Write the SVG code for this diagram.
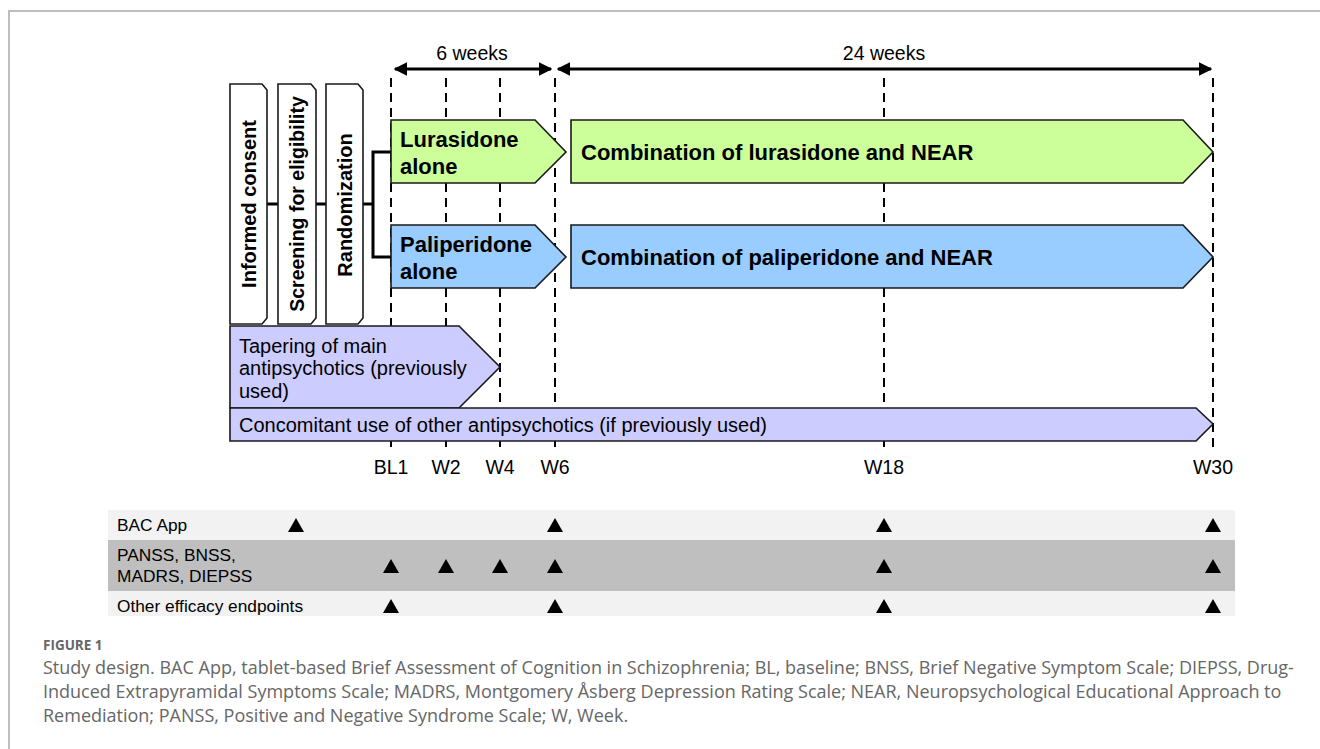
<svg xmlns="http://www.w3.org/2000/svg" width="1320" height="749" viewBox="0 0 1320 749">
<defs>
<marker id="ah" viewBox="0 0 10 10" refX="9" refY="5" markerWidth="4.5" markerHeight="4.5" orient="auto-start-reverse" markerUnits="strokeWidth">
<path d="M0,0 L10,5 L0,10 z" fill="#000"/>
</marker>
<style>
.frame{fill:none;stroke:#bdbdbd;stroke-width:2}
.dash{stroke:#000;stroke-width:2;stroke-dasharray:9,6;fill:none}
.box{stroke:#1a1a1a;stroke-width:1.6}
.white{fill:#fff}
.green{fill:#ccff99}
.blue{fill:#99ccff}
.purple{fill:#ccccff}
.conn{stroke:#000;stroke-width:3;fill:none}
.span{stroke:#000;stroke-width:3;fill:none}
.t{font-family:"Liberation Sans",Arial,sans-serif;fill:#000}
.b{font-weight:bold}
.tri{fill:#000}
.cap{font-family:"Open Sans","Noto Sans",sans-serif;fill:#666}
</style>
</defs>
<rect width="1320" height="749" fill="#fff"/>
<path class="frame" d="M9,749 L9,11 L1320,11"/>

<g id="timeline-grid">
<line class="dash" x1="391" y1="78" x2="391" y2="452"/>
<line class="dash" x1="446" y1="78" x2="446" y2="452"/>
<line class="dash" x1="500" y1="78" x2="500" y2="452"/>
<line class="dash" x1="555" y1="78" x2="555" y2="452"/>
<line class="dash" x1="884" y1="78" x2="884" y2="452"/>
<line class="dash" x1="1213" y1="78" x2="1213" y2="452"/>
</g>

<g id="spans">
<line class="span" x1="395" y1="69" x2="551" y2="69" marker-start="url(#ah)" marker-end="url(#ah)"/>
<text class="t" x="472" y="60" font-size="19.5" text-anchor="middle">6 weeks</text>
<line class="span" x1="558" y1="69" x2="1211" y2="69" marker-start="url(#ah)" marker-end="url(#ah)"/>
<text class="t" x="884" y="60" font-size="19.5" text-anchor="middle">24 weeks</text>
</g>

<g id="connectors">
<line class="conn" x1="267" y1="204" x2="278" y2="204"/>
<line class="conn" x1="316" y1="204" x2="326" y2="204"/>
<polyline class="conn" points="363,204 373,204"/>
<polyline class="conn" points="391,152 373,152 373,257 391,257"/>
</g>

<g id="informed-consent">
<polygon class="box white" points="230,84 262,84 267,90 267,318 262,324 230,324"/>
<text class="t b" font-size="20" text-anchor="middle" transform="translate(256,204) rotate(-90)">Informed consent</text>
</g>
<g id="screening">
<polygon class="box white" points="278,84 311,84 316,90 316,318 311,324 278,324"/>
<text class="t b" font-size="19.5" text-anchor="middle" transform="translate(304,204) rotate(-90)">Screening for eligibility</text>
</g>
<g id="randomization">
<polygon class="box white" points="326,84 358,84 363,90 363,318 358,324 326,324"/>
<text class="t b" font-size="20" text-anchor="middle" transform="translate(352,205) rotate(-90)">Randomization</text>
</g>

<g id="lurasidone-alone">
<polygon class="box green" points="391,120 535,120 566,152 535,183 391,183"/>
<text class="t b" font-size="22" x="400" y="147">Lurasidone</text>
<text class="t b" font-size="22" x="400" y="174">alone</text>
</g>
<g id="paliperidone-alone">
<polygon class="box blue" points="391,225 535,225 566,257 535,288 391,288"/>
<text class="t b" font-size="22" x="400" y="252">Paliperidone</text>
<text class="t b" font-size="22" x="400" y="279">alone</text>
</g>
<g id="combination-lurasidone">
<polygon class="box green" points="571,120 1183,120 1213,152 1183,183 571,183"/>
<text class="t b" font-size="22" x="581" y="160">Combination of lurasidone and NEAR</text>
</g>
<g id="combination-paliperidone">
<polygon class="box blue" points="571,225 1183,225 1213,257 1183,288 571,288"/>
<text class="t b" font-size="22" x="581" y="265">Combination of paliperidone and NEAR</text>
</g>

<g id="tapering">
<polygon class="box purple" points="230,326 459,326 500,367 459,408 230,408"/>
<text class="t" font-size="20" x="239" y="353">Tapering of main</text>
<text class="t" font-size="20" x="239" y="375">antipsychotics (previously</text>
<text class="t" font-size="20" x="239" y="398">used)</text>
</g>
<g id="concomitant">
<polygon class="box purple" points="230,408 1196,408 1213,424 1196,441 230,441"/>
<text class="t" font-size="20" x="239" y="432">Concomitant use of other antipsychotics (if previously used)</text>
</g>

<g id="axis-labels" class="t" font-size="19.5" text-anchor="middle">
<text x="391" y="474">BL1</text>
<text x="446" y="474">W2</text>
<text x="500" y="474">W4</text>
<text x="555" y="474">W6</text>
<text x="884" y="474">W18</text>
<text x="1213" y="474">W30</text>
</g>

<g id="assessment-table">
<rect x="108" y="510" width="1127" height="30" fill="#f2f2f2"/>
<rect x="108" y="540" width="1127" height="51" fill="#bfbfbf"/>
<rect x="108" y="591" width="1127" height="25" fill="#f2f2f2"/>
<text class="t" font-size="17.3" x="117" y="531">BAC App</text>
<text class="t" font-size="17.3" x="117" y="561">PANSS, BNSS,</text>
<text class="t" font-size="17.3" x="117" y="582">MADRS, DIEPSS</text>
<text class="t" font-size="17.3" x="117" y="612">Other efficacy endpoints</text>
<g id="markers-bac">
<polygon class="tri" points="296,518 304,532 288,532"/>
<polygon class="tri" points="555,518 563,532 547,532"/>
<polygon class="tri" points="884,518 892,532 876,532"/>
<polygon class="tri" points="1213,518 1221,532 1205,532"/>
</g>
<g id="markers-panss">
<polygon class="tri" points="391,559 399,573 383,573"/>
<polygon class="tri" points="446,559 454,573 438,573"/>
<polygon class="tri" points="500,559 508,573 492,573"/>
<polygon class="tri" points="555,559 563,573 547,573"/>
<polygon class="tri" points="884,559 892,573 876,573"/>
<polygon class="tri" points="1213,559 1221,573 1205,573"/>
</g>
<g id="markers-other">
<polygon class="tri" points="391,599 399,613 383,613"/>
<polygon class="tri" points="555,599 563,613 547,613"/>
<polygon class="tri" points="884,599 892,613 876,613"/>
<polygon class="tri" points="1213,599 1221,613 1205,613"/>
</g>
</g>

<g id="caption">
<text class="cap" x="43" y="650" font-size="13.5" font-weight="bold" fill="#888">FIGURE 1</text>
<text class="cap" x="43" y="674" font-size="18">Study design. BAC App, tablet-based Brief Assessment of Cognition in Schizophrenia; BL, baseline; BNSS, Brief Negative Symptom Scale; DIEPSS, Drug-</text>
<text class="cap" x="43" y="698" font-size="18">Induced Extrapyramidal Symptoms Scale; MADRS, Montgomery Åsberg Depression Rating Scale; NEAR, Neuropsychological Educational Approach to</text>
<text class="cap" x="43" y="722" font-size="18">Remediation; PANSS, Positive and Negative Syndrome Scale; W, Week.</text>
</g>
</svg>
